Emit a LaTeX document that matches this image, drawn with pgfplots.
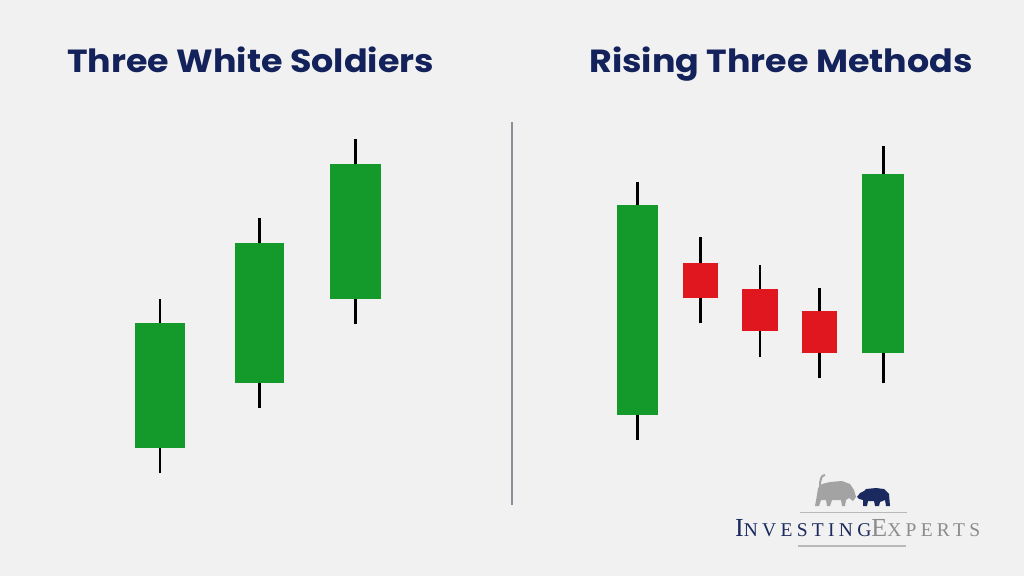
\documentclass[border=0pt]{standalone}
\usepackage{pgfplots}
\pgfplotsset{compat=1.18}
\usepackage{fontspec}
\setmainfont{Poppins}
\newfontfamily\logofont[LetterSpace=22]{Liberation Serif}
\definecolor{bgc}{HTML}{F1F1F1}
\definecolor{cgreen}{HTML}{139A2B}
\definecolor{cred}{HTML}{E0171F}
\definecolor{navy}{HTML}{14225C}
\definecolor{divc}{HTML}{8A8F99}
\definecolor{bullc}{HTML}{A3A3A3}
\definecolor{bearc}{HTML}{1B2A5E}
\definecolor{logogray}{HTML}{8C8C8C}
\begin{document}
\begin{tikzpicture}
\begin{axis}[
  width=1024pt, height=576pt, scale only axis,
  xmin=0, xmax=1024, ymin=0, ymax=576,
  axis lines=none, ticks=none,
  axis background/.style={fill=bgc},
  clip=false,
]
% ---------- Three White Soldiers ----------
% wicks (low -> high)
\addplot[black, line width=2.6pt, mark=none] coordinates {(160,102.7) (160,277)};
\addplot[black, line width=2.6pt, mark=none] coordinates {(259.5,167.7) (259.5,357.7)};
\addplot[black, line width=2.6pt, mark=none] coordinates {(355.7,252) (355.7,437)};
% bodies (open -> close)
\addplot[cgreen, line width=50.7pt, mark=none] coordinates {(160,127.7) (160,252.7)};
\addplot[cgreen, line width=49.6pt, mark=none] coordinates {(259.5,192.7) (259.5,332.7)};
\addplot[cgreen, line width=50.7pt, mark=none] coordinates {(355.7,277) (355.7,412)};
% ---------- Rising Three Methods ----------
\addplot[black, line width=2.6pt, mark=none] coordinates {(637.2,136) (637.2,394.3)};
\addplot[black, line width=2.6pt, mark=none] coordinates {(700.3,252.7) (700.3,338.7)};
\addplot[black, line width=2.6pt, mark=none] coordinates {(760,218.7) (760,311.3)};
\addplot[black, line width=2.6pt, mark=none] coordinates {(819.7,197.7) (819.7,287.7)};
\addplot[black, line width=2.6pt, mark=none] coordinates {(883.2,192.7) (883.2,430.3)};
\addplot[cgreen, line width=41pt, mark=none] coordinates {(637.2,161) (637.2,371.3)};
\addplot[cred, line width=35.3pt, mark=none] coordinates {(700.3,277.7) (700.3,313.3)};
\addplot[cred, line width=35.4pt, mark=none] coordinates {(760,245) (760,287.3)};
\addplot[cred, line width=35.3pt, mark=none] coordinates {(819.7,222.7) (819.7,265)};
\addplot[cgreen, line width=41.7pt, mark=none] coordinates {(883.2,222.7) (883.2,402)};
% divider
\draw[divc, line width=2pt] (axis cs:511.7,71) -- (axis cs:511.7,453.7);
% titles
\node[anchor=base, text=navy, font=\fontsize{32}{34}\selectfont\bfseries] at (axis cs:250.5,503) {\scalebox{1.09}[1]{Three White Soldiers}};
\node[anchor=base, text=navy, font=\fontsize{32}{34}\selectfont\bfseries] at (axis cs:781,503) {\scalebox{1.09}[1]{Rising Three Methods}};
% logo
\fill[bullc] (axis cs:815,70) -- (axis cs:817,81) -- (axis cs:818,88) -- (axis cs:822,92) -- (axis cs:830,94) -- (axis cs:842,95) -- (axis cs:850,92) -- (axis cs:854,86) -- (axis cs:856,79) -- (axis cs:853,75) -- (axis cs:849,78) -- (axis cs:846,76) -- (axis cs:845,70) -- (axis cs:842,70) -- (axis cs:841,76) -- (axis cs:832,76) -- (axis cs:830,70) -- (axis cs:827,70) -- (axis cs:826,76) -- (axis cs:821,76) -- (axis cs:819,70) -- cycle;
\draw[bullc, line width=2pt] (axis cs:820,89) .. controls (axis cs:820,96) and (axis cs:821,101) .. (axis cs:825,101);
\fill[bearc] (axis cs:857,79) -- (axis cs:860,83) -- (axis cs:864,85) -- (axis cs:866,87) -- (axis cs:876,88) -- (axis cs:884,87) -- (axis cs:889,82) -- (axis cs:890,70) -- (axis cs:886,70) -- (axis cs:885,76) -- (axis cs:880,74) -- (axis cs:879,70) -- (axis cs:875,70) -- (axis cs:874,75) -- (axis cs:868,75) -- (axis cs:867,70) -- (axis cs:863,70) -- (axis cs:863,76) -- (axis cs:859,77) -- cycle;
\draw[gray!55, line width=1.2pt] (axis cs:800,63.7) -- (axis cs:907,63.7);
\draw[gray!55, line width=1.2pt] (axis cs:798,30) -- (axis cs:906,30);
\node[anchor=base west, inner sep=0pt, font=\logofont] at (axis cs:735,39.3) {\textcolor{bearc}{\fontsize{26}{26}\selectfont I\fontsize{19.5}{20}\selectfont NVESTING}\textcolor{logogray}{\fontsize{26}{26}\selectfont E\fontsize{19.5}{20}\selectfont XPERTS}};
\end{axis}
\end{tikzpicture}
\end{document}
